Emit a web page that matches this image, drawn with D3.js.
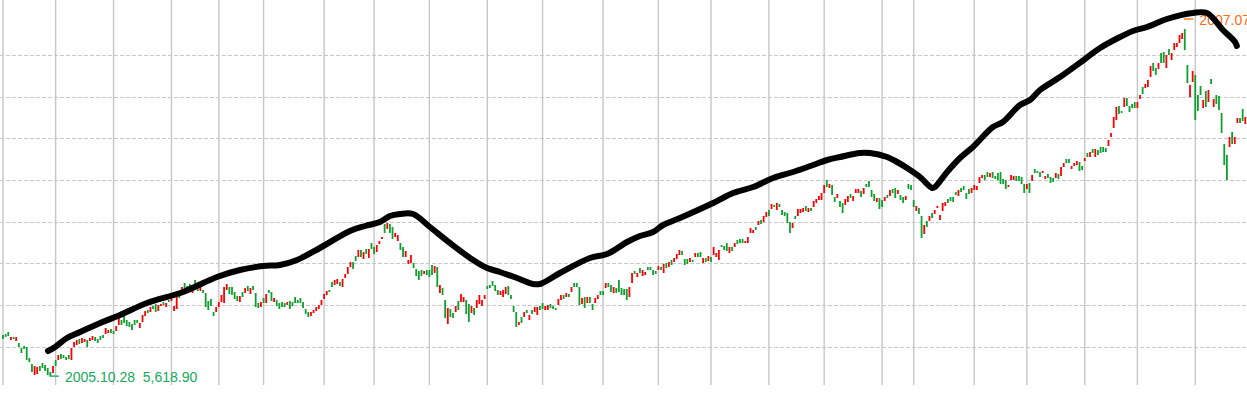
<!DOCTYPE html>
<html>
<head>
<meta charset="utf-8">
<title>Daily chart</title>
<script src="https://cdn.jsdelivr.net/npm/d3@7"></script>
<style>
  html, body { margin: 0; padding: 0; background: #fff; }
  svg { display: block; }
  .grid-h { stroke: #c8c8c8; stroke-width: 1; stroke-dasharray: 3.5,2.5; shape-rendering: crispEdges; }
  .grid-v { stroke: #c6c6c6; stroke-width: 1.4; }
  .up { fill: #ff0000; }
  .down { fill: #0ea02e; }
  .trend { fill: none; stroke: #000; stroke-width: 6; stroke-linecap: round; stroke-linejoin: round; }
  .lbl { font-family: "Liberation Sans", Arial, sans-serif; font-size: 14px; white-space: pre; }
  .lbl-low { fill: #14aa5a; }
  .lbl-high { fill: #ff6a10; }
</style>
</head>
<body>
<svg id="chart" width="1247" height="393"></svg>
<script>

// daily bars, open / close (body only, red = up, green = down)
var opens = [
  6030,6040,6060,5980,6010,5970,5950,5900,5920,5910,
  5800,5740,5630,5640,5720,5750,5730,5700,5660,5650,
  5780,5780,5840,5830,5810,5830,5780,5910,5930,5990,
  5950,5960,5980,5970,5980,6010,5990,6020,6030,6040,
  6050,6090,6070,6070,6130,6180,6230,6180,6160,6140,
  6180,6180,6100,6160,6220,6280,6260,6320,6340,6270,
  6320,6360,6310,6380,6370,6270,6290,6450,6460,6550,
  6520,6540,6450,6580,6540,6470,6480,6450,6370,6390,
  6260,6260,6310,6360,6350,6480,6510,6510,6460,6420,
  6360,6460,6450,6520,6440,6520,6450,6350,6310,6400,
  6350,6480,6460,6360,6380,6350,6360,6350,6330,6370,
  6360,6410,6380,6400,6360,6290,6260,6220,6250,6270,
  6290,6330,6390,6430,6480,6560,6530,6540,6560,6510,
  6600,6640,6710,6760,6820,6810,6880,6790,6890,6800,
  6950,6910,6860,6940,6990,7140,7090,7140,7110,7010,
  6970,6950,6910,6810,6740,6750,6750,6690,6670,6680,
  6640,6680,6680,6730,6650,6710,6450,6500,6380,6140,
  6290,6250,6260,6370,6360,6360,6380,6340,6250,6300,
  6300,6340,6320,6390,6520,6530,6570,6530,6480,6430,
  6410,6440,6520,6430,6320,6260,6130,6210,6210,6280,
  6180,6280,6260,6230,6320,6350,6280,6280,6340,6320,
  6300,6330,6380,6430,6410,6440,6460,6550,6550,6510,
  6340,6410,6350,6410,6340,6350,6390,6470,6470,6500,
  6550,6530,6450,6500,6580,6500,6490,6490,6410,6550,
  6670,6610,6700,6620,6630,6710,6710,6680,6670,6680,
  6710,6650,6750,6710,6780,6760,6790,6830,6870,6790,
  6790,6760,6780,6810,6850,6860,6750,6800,6770,6810,
  6830,6810,6780,6930,6920,6950,6850,6910,6910,6980,
  6990,6990,6950,6950,7050,7050,7110,7130,7180,7160,
  7210,7280,7290,7330,7280,7340,7280,7260,7250,7160,
  7100,7220,7220,7250,7260,7320,7260,7300,7310,7350,
  7380,7380,7450,7580,7500,7530,7410,7400,7370,7350,
  7330,7360,7440,7370,7450,7450,7470,7440,7540,7570,
  7480,7440,7360,7400,7380,7370,7430,7420,7490,7500,
  7440,7430,7410,7380,7540,7530,7380,7270,7300,7220,
  7040,7170,7170,7250,7240,7300,7180,7270,7320,7390,
  7410,7410,7460,7420,7500,7520,7450,7490,7450,7480,
  7480,7550,7600,7630,7660,7610,7660,7620,7650,7660,
  7590,7580,7510,7580,7580,7620,7620,7610,7540,7490,
  7550,7570,7690,7670,7660,7650,7590,7640,7610,7600,
  7600,7640,7620,7710,7790,7790,7690,7720,7730,7760,
  7720,7770,7850,7810,7890,7810,7880,7910,7910,7900,
  7920,8010,8100,8180,8320,8270,8310,8400,8320,8340,
  8360,8300,8390,8510,8500,8510,8610,8750,8700,8690,
  8850,8860,8700,8890,8780,8880,8910,8950,8990,9090,
  8730,8410,8560,8630,8430,8520,8300,8470,8360,8590,
  8310,8430,8420,8250,7940,7830,7910,8060,7940,8150,
  8200,8290,8140
];

var closes = [
  5990,6010,6020,6010,5990,6010,5910,5850,5890,5780,
  5760,5660,5720,5710,5670,5700,5670,5630,5620,5720,
  5720,5830,5790,5800,5780,5790,5900,5960,5980,5940,
  6000,5990,5910,6000,6020,5970,5950,5980,6000,6100,
  6080,6050,6040,6120,6210,6130,6150,6120,6110,6080,
  6130,6150,6150,6230,6270,6250,6310,6290,6260,6330,
  6340,6330,6350,6360,6400,6320,6410,6400,6510,6500,
  6480,6500,6530,6510,6470,6510,6450,6310,6280,6320,
  6220,6310,6360,6430,6510,6540,6440,6430,6390,6370,
  6420,6410,6500,6470,6500,6480,6310,6300,6360,6350,
  6440,6450,6370,6400,6320,6290,6310,6310,6360,6290,
  6320,6350,6350,6350,6300,6240,6210,6260,6280,6310,
  6330,6380,6440,6470,6460,6510,6580,6590,6520,6590,
  6640,6710,6760,6690,6770,6880,6810,6860,6840,6890,
  6890,6840,6930,6970,7010,7050,7150,7050,6990,7050,
  7030,6880,6810,6870,6780,6830,6700,6620,6580,6620,
  6670,6630,6610,6630,6720,6510,6530,6430,6200,6300,
  6210,6200,6320,6280,6440,6410,6240,6160,6320,6230,
  6380,6430,6380,6430,6490,6500,6520,6470,6430,6470,
  6480,6510,6430,6390,6260,6110,6160,6150,6260,6250,
  6230,6240,6310,6310,6280,6290,6320,6330,6300,6290,
  6280,6390,6430,6390,6450,6410,6510,6510,6510,6330,
  6400,6300,6410,6350,6280,6400,6430,6430,6430,6550,
  6510,6460,6510,6450,6460,6430,6430,6380,6510,6650,
  6640,6650,6650,6680,6660,6680,6680,6630,6640,6720,
  6680,6740,6700,6760,6730,6800,6840,6880,6830,6730,
  6740,6800,6760,6850,6810,6810,6800,6760,6820,6760,
  6910,6850,6880,6910,6880,6870,6910,6870,6950,6940,
  6950,6950,6970,7010,7100,7080,7080,7170,7140,7220,
  7260,7220,7340,7310,7350,7310,7230,7220,7150,7050,
  7150,7190,7290,7290,7300,7270,7300,7270,7370,7390,
  7420,7450,7530,7510,7540,7430,7360,7440,7310,7250,
  7390,7420,7400,7420,7490,7490,7410,7500,7510,7510,
  7410,7370,7400,7290,7310,7410,7400,7480,7450,7400,
  7480,7380,7350,7420,7490,7480,7310,7320,7240,7000,
  7130,7110,7220,7200,7280,7320,7230,7350,7360,7350,
  7370,7360,7430,7480,7460,7480,7390,7440,7500,7530,
  7520,7610,7630,7580,7610,7650,7600,7590,7580,7540,
  7540,7490,7530,7630,7620,7570,7570,7540,7450,7540,
  7450,7630,7650,7650,7610,7670,7620,7600,7550,7560,
  7650,7590,7710,7750,7750,7750,7720,7750,7770,7670,
  7680,7800,7810,7860,7850,7890,7830,7850,7860,7860,
  7980,8050,8210,8310,8240,8250,8400,8320,8260,8300,
  8300,8360,8430,8440,8540,8580,8720,8670,8630,8750,
  8750,8750,8830,8830,8850,8950,8950,9030,9050,8880,
  8550,8530,8670,8180,8270,8430,8380,8310,8480,8540,
  8390,8340,8280,8050,7730,7580,8010,7940,8010,8200,
  8150,8170,8210
];

// first bar of each month (period separators)
var monthStarts = [0,20,42,64,82,99,122,141,162,184,205,228,249,269,291,312,334,346,369,389,411,431,453];

// horizontal price grid
var gridPrices = [5910, 6330, 6750, 7160, 7580, 8000, 8410, 8830];

// low / high markers
var lowMark = { bar: 18, date: '2005.10.28', price: 5618.90 };
var highMark = { bar: 449, date: '2007.07.13', price: 9190.00 };

// hand-drawn trend stroke: bar index, price
var trendBars = [17.1,19.8,24.3,29.3,36.9,44.5,54.7,68.4,81.3,90.0,98.8,105.2,111.7,120.4,131.8,137.5,143.2,147.0,150.8,155.8,
  162.2,169.8,178.6,183.9,188.8,195.3,201.4,204.0,211.6,223.0,229.5,237.1,242.0,247.0,250.8,257.2,269.8,277.4,285.0,292.6,
  300.2,307.8,313.1,318.0,325.6,329.4,335.9,339.7,343.5,348.4,353.0,354.1,358.7,363.6,368.5,376.1,379.9,386.4,390.2,394.0,
  401.6,411.1,416.8,424.4,429.3,434.7,442.2,452.1,457.4,463.5,468.1,468.8];
var trendPrices = [5870,5910,6000,6060,6150,6230,6350,6460,6610,6680,6720,6730,6780,6900,7070,7120,7160,7220,7240,7240,
  7110,6950,6780,6700,6660,6600,6540,6540,6650,6800,6840,6960,7020,7060,7130,7200,7350,7450,7510,7600,
  7660,7730,7780,7810,7850,7850,7810,7760,7700,7610,7500,7510,7660,7800,7910,8110,8160,8330,8380,8480,
  8610,8790,8900,9010,9070,9110,9190,9250,9250,9080,8960,8920];

var W = 1247, H = 393, plotBottom = 385;

var svg = d3.select('#chart');
svg.append('rect').attr('width', W).attr('height', H).attr('fill', '#fff');

var x = d3.scaleLinear().domain([0, opens.length - 1]).range([3, 1245.3]);
var y = d3.scaleLinear().domain([5450, 9380]).range([H, 0]);

// grid
svg.append('g').selectAll('line')
  .data(gridPrices).enter().append('line')
  .attr('class', 'grid-h')
  .attr('x1', 0).attr('x2', W)
  .attr('y1', function(d) { return Math.round(y(d)) + 0.5; })
  .attr('y2', function(d) { return Math.round(y(d)) + 0.5; });

svg.append('g').selectAll('line')
  .data(monthStarts).enter().append('line')
  .attr('class', 'grid-v')
  .attr('x1', function(d) { return x(d); })
  .attr('x2', function(d) { return x(d); })
  .attr('y1', 0).attr('y2', plotBottom);

// bars
var bars = d3.range(opens.length).map(function(i) {
  return { i: i, o: opens[i], c: closes[i] };
});

svg.append('g').selectAll('rect')
  .data(bars).enter().append('rect')
  .attr('class', function(d) { return d.c >= d.o ? 'up' : 'down'; })
  .attr('x', function(d) { return x(d.i) - 0.9; })
  .attr('width', 1.8)
  .attr('y', function(d) { return y(Math.max(d.o, d.c)); })
  .attr('height', function(d) { return Math.max(1.5, Math.abs(y(d.o) - y(d.c))); });

// low / high labels
function mark(m, cls, color) {
  var g = svg.append('g');
  var px = x(m.bar), py = y(m.price);
  g.append('line')
    .attr('x1', px - 1).attr('x2', px + 8.5)
    .attr('y1', py).attr('y2', py)
    .attr('stroke', color).attr('stroke-width', 1.3);
  g.append('text')
    .attr('class', 'lbl ' + cls)
    .attr('x', px + 14.6)
    .attr('y', py + 5.8)
    .text(m.date + '  ' + d3.format(',.2f')(m.price));
}
mark(lowMark, 'lbl-low', '#14aa5a');
mark(highMark, 'lbl-high', '#ff6a10');

// trend stroke
var trend = trendBars.map(function(b, k) { return [b, trendPrices[k]]; });
var line = d3.line()
  .x(function(d) { return x(d[0]); })
  .y(function(d) { return y(d[1]); })
  .curve(d3.curveCatmullRom.alpha(0.5));

svg.append('path')
  .datum(trend)
  .attr('class', 'trend')
  .attr('d', line);

</script>
</body>
</html>
